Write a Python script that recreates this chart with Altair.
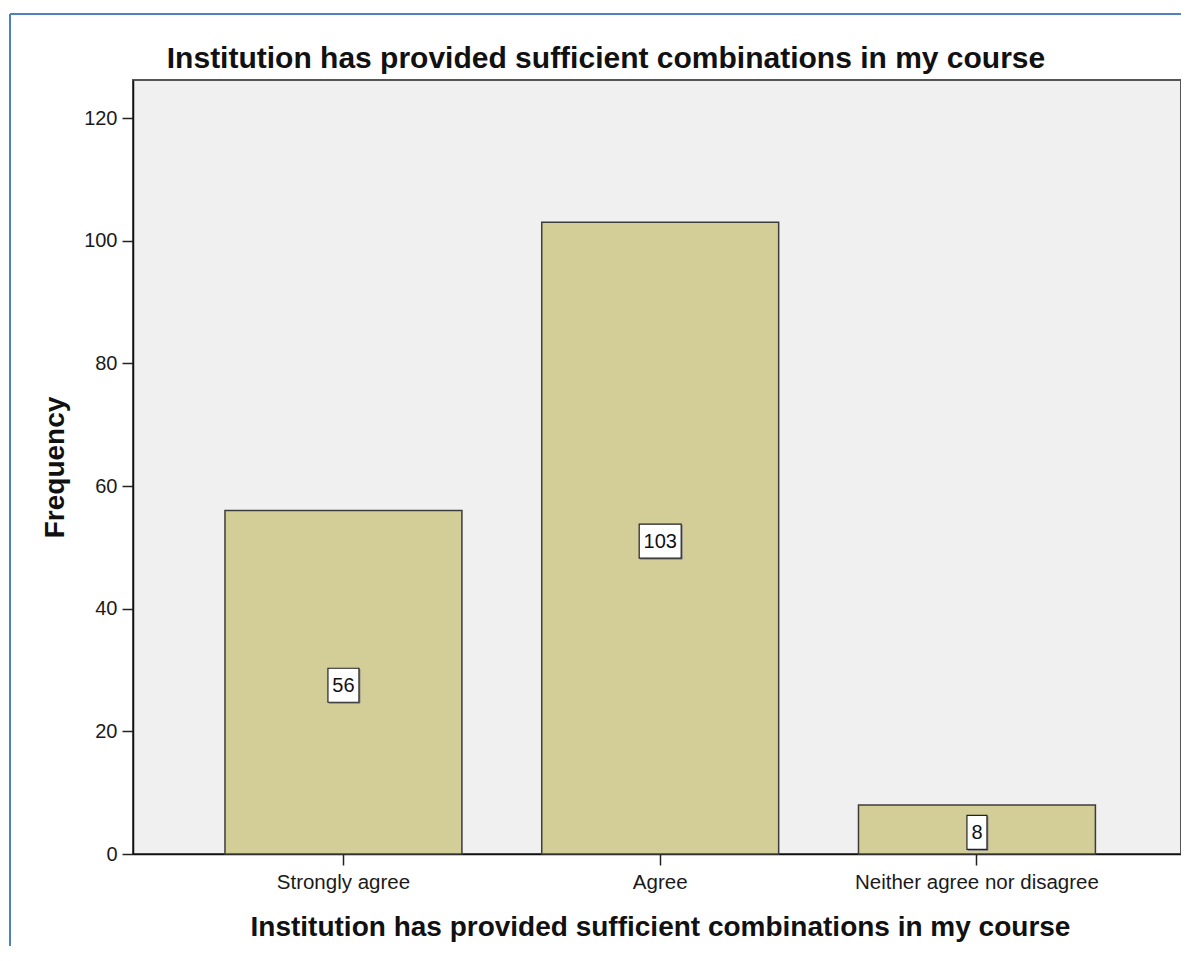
import altair as alt
import pandas as pd

categories = ["Strongly agree", "Agree", "Neither agree nor disagree"]
counts = [56, 103, 8]
y_ticks = [0, 20, 40, 60, 80, 100, 120]
title_text = "Institution has provided sufficient combinations in my course"

df = pd.DataFrame({"cat": categories, "count": counts})
FONT = "Liberation Sans"

xscale = alt.Scale(domain=categories, paddingInner=0.252, paddingOuter=0.2803, align=0.518)
yscale = alt.Scale(domain=[0, 126.2], nice=False, zero=True)

base = alt.Chart(df)

bars = base.mark_bar(color="#D3CE97", stroke="#3c3c3c", strokeWidth=1.5).encode(
    x=alt.X("cat:N", scale=xscale, sort=categories,
            axis=alt.Axis(title=title_text, labelAngle=0, labelFont=FONT, labelFontSize=20.5,
                          labelLimit=0, labelColor="#1a1a1a", labelPadding=7, tickSize=11,
                          tickWidth=1.5, tickColor="#222", domainColor="#111", domainWidth=1.5,
                          titleFont=FONT, titleFontSize=28, titleFontWeight="bold",
                          titleColor="#111", titleBaseline="alphabetic", titleX=527, titleY=81)),
    y=alt.Y("count:Q", scale=yscale,
            axis=alt.Axis(title="Frequency", values=y_ticks, grid=False, labelFont=FONT,
                          labelFontSize=20, labelColor="#1a1a1a", labelPadding=5, tickSize=11,
                          tickWidth=1.5, tickColor="#222", domainColor="#111", domainWidth=1.5,
                          titleFont=FONT, titleFontSize=28, titleFontWeight="bold",
                          titleColor="#111", titleBaseline="alphabetic", titleX=-70, titleY=387)),
)

box_expr = ("'M' + (-(4.5 + 5.5*length(toString(datum.count)))/50) + ',-0.34H' + "
            "((4.5 + 5.5*length(toString(datum.count)))/50) + 'V0.34H' + "
            "(-(4.5 + 5.5*length(toString(datum.count)))/50) + 'Z'")

lab = base.transform_calculate(mid="datum.count/2", box=box_expr)

shadow = lab.mark_point(filled=True, fill="#8a8a8a", stroke="#8a8a8a", strokeWidth=1, opacity=1,
                        size=10000, xOffset=1, yOffset=4).encode(
    x=alt.X("cat:N", scale=xscale, sort=categories),
    y=alt.Y("mid:Q", scale=yscale),
    shape=alt.Shape("box:N", scale=None),
)
boxes = lab.mark_point(filled=True, fill="white", stroke="#222", strokeWidth=1.2, opacity=1,
                       size=10000, yOffset=3).encode(
    x=alt.X("cat:N", scale=xscale, sort=categories),
    y=alt.Y("mid:Q", scale=yscale),
    shape=alt.Shape("box:N", scale=None),
)
texts = lab.mark_text(font=FONT, fontSize=20, color="#111", baseline="middle", dy=4).encode(
    x=alt.X("cat:N", scale=xscale, sort=categories),
    y=alt.Y("mid:Q", scale=yscale),
    text=alt.Text("count:Q"),
)

deco = alt.Chart(pd.DataFrame({"a": [0]}))
border_left = deco.mark_rule(color="#4F81BD", strokeWidth=2).encode(
    x=alt.value(-123), y=alt.value(-66), y2=alt.value(900))
border_top = deco.mark_rule(color="#4F81BD", strokeWidth=2).encode(
    x=alt.value(-123), x2=alt.value(1100), y=alt.value(-66))

chart = alt.layer(border_left, border_top, bars, shadow, boxes, texts).properties(
    width=1048, height=774,
    title=alt.TitleParams(title_text, font=FONT, fontSize=30, fontWeight="bold", color="#111",
                          anchor="middle", dx=-51, baseline="alphabetic", offset=-85),
    autosize=alt.AutoSizeParams(type="none"),
    padding={"left": 125, "top": 72, "right": 0, "bottom": 92},
).configure(font=FONT, background="white").configure_view(fill="#F0F0F0", stroke="#555", strokeWidth=2)

chart.save("out.html", embed_options={"renderer": "svg", "actions": False})
